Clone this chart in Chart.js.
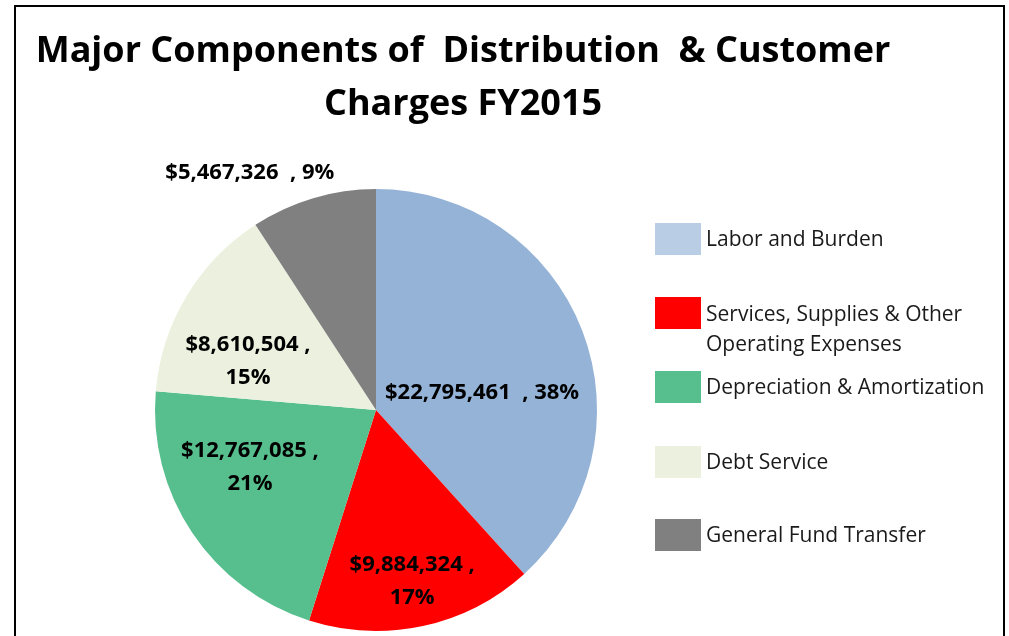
<!DOCTYPE html>
<html>
<head>
<meta charset="utf-8">
<script src="https://cdn.jsdelivr.net/npm/chart.js@4.4.1/dist/chart.umd.min.js"></script>
<style>
  html, body { margin: 0; padding: 0; background: #ffffff; }
  #wrap { position: relative; width: 1009px; height: 636px; }
</style>
</head>
<body>
<div id="wrap"><canvas id="pie"></canvas></div>
<script>
// Veriler
const categories = [
    'Labor and Burden',
    'Services, Supplies & Other Operating Expenses',
    'Depreciation & Amortization',
    'Debt Service',
    'General Fund Transfer'
];
const amounts = [22795461, 9884324, 12767085, 8610504, 5467326];
const percents = [38, 17, 21, 15, 9];
const legendLines = [
    ['Labor and Burden'],
    ['Services, Supplies & Other', 'Operating Expenses'],
    ['Depreciation & Amortization'],
    ['Debt Service'],
    ['General Fund Transfer']
];
const titleLines = ['Major Components of  Distribution  & Customer', 'Charges FY2015'];

const sliceColors = ['#95B3D7', '#FF0000', '#57BF8E', '#EBF1DE', '#808080'];
const legendColors = ['#B9CDE5', '#FF0000', '#57BF8E', '#EBF1DE', '#808080'];

const FONT = "'Open Sans', Lato, sans-serif";

const fmtMoney = v => '$' + v.toLocaleString('en-US');

// Etiket yerleşimi: dilimin orta açısına göre sapma (derece) ve yarıçap oranı
const labelPlacement = [
    { dAngle: 12, r: 0.486, wrap: false },
    { dAngle: 0.3, r: 0.79, wrap: true },
    { dAngle: 9.4, r: 0.626, wrap: true },
    { dAngle: -10, r: 0.62, wrap: true },
    { dAngle: -11.5, r: 1.215, wrap: false }
];

const decorPlugin = {
    id: 'decor',
    beforeDraw(chart) {
        const ctx = chart.ctx;
        ctx.save();
        ctx.strokeStyle = '#000000';
        ctx.lineWidth = 2;
        ctx.strokeRect(15, 6, 989, 700);

        // başlık
        ctx.fillStyle = '#000000';
        ctx.textAlign = 'center';
        ctx.textBaseline = 'alphabetic';
        ctx.font = `bold 36px ${FONT}`;
        ctx.fillText(titleLines[0], 463, 62);
        ctx.fillText(titleLines[1], 463, 115);
        ctx.restore();
    },
    afterDraw(chart) {
        const ctx = chart.ctx;
        const meta = chart.getDatasetMeta(0);
        ctx.save();

        // veri etiketleri
        ctx.fillStyle = '#000000';
        ctx.textAlign = 'center';
        ctx.textBaseline = 'middle';
        ctx.font = `bold 22px ${FONT}`;
        meta.data.forEach((arc, i) => {
            const p = labelPlacement[i];
            const mid = (arc.startAngle + arc.endAngle) / 2 + p.dAngle * Math.PI / 180;
            const dist = arc.outerRadius * p.r;
            const x = arc.x + Math.cos(mid) * dist;
            const y = arc.y + Math.sin(mid) * dist;
            const money = fmtMoney(amounts[i]);
            const pct = percents[i] + '%';
            if (p.wrap) {
                ctx.fillText(money + ' ,', x, y - 16);
                ctx.fillText(pct, x, y + 17);
            } else {
                ctx.fillText(money + '  , ' + pct, x, y);
            }
        });

        // lejant
        const boxTops = [223, 297, 371, 446, 519];
        ctx.textAlign = 'left';
        ctx.font = `21px ${FONT}`;
        legendLines.forEach((lines, i) => {
            const top = boxTops[i];
            ctx.fillStyle = legendColors[i];
            ctx.fillRect(655, top, 46, 32);
            ctx.fillStyle = '#1a1a1a';
            if (lines.length === 1) {
                ctx.fillText(lines[0], 706, top + 17);
            } else {
                ctx.fillText(lines[0], 706, top + 18);
                ctx.fillText(lines[1], 706, top + 48);
            }
        });
        ctx.restore();
    }
};

new Chart(document.getElementById('pie'), {
    type: 'pie',
    data: {
        labels: categories,
        datasets: [{
            data: amounts,
            backgroundColor: sliceColors,
            borderWidth: 0
        }]
    },
    options: {
        responsive: true,
        maintainAspectRatio: false,
        animation: false,
        layout: {
            padding: { left: 155, top: 189, right: 412, bottom: 5 }
        },
        plugins: {
            legend: { display: false },
            title: { display: false },
            tooltip: { enabled: false }
        }
    },
    plugins: [decorPlugin]
});
</script>
</body>
</html>
